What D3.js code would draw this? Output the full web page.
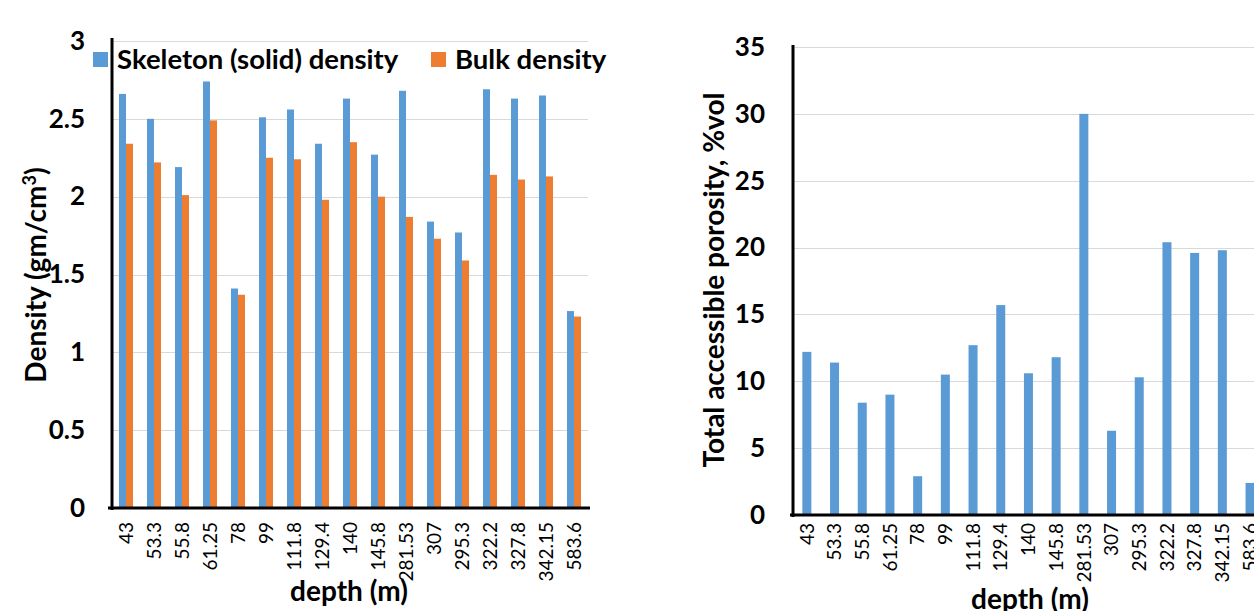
<!DOCTYPE html>
<meta charset="utf-8">
<head>
<title></title>
<script src="https://d3js.org/d3.v7.min.js"></script>
<style>
  body { margin: 0; background: #fff; }
  svg, svg text { font-family: Lato, "Open Sans", sans-serif; }
  .grid line { stroke: #d9d9d9; stroke-width: 1; shape-rendering: crispEdges; }
  .grid path { display: none; }
  .ylab text { font-weight: bold; font-size: 26px; fill: #000; }
  .ylab path, .ylab line { display: none; }
  .xlab text { font-size: 19px; fill: #000; }
  .xlab path, .xlab line { display: none; }
  .title { font-weight: bold; font-size: 28px; fill: #000; }
  .legend { font-weight: bold; font-size: 27.5px; fill: #000; }
</style>
</head>
<body>
<div id="my_dataviz"></div>
<script>
// depths (category labels, same order as the original)
var depths = ["43", "53.3", "55.8", "61.25", "78", "99", "111.8", "129.4", "140",
              "145.8", "281.53", "307", "295.3", "322.2", "327.8", "342.15", "583.6"];

// densities, gm/cm3
var skeleton = [2.66, 2.50, 2.19, 2.74, 1.41, 2.51, 2.56, 2.34, 2.63,
                2.27, 2.68, 1.84, 1.77, 2.69, 2.63, 2.65, 1.265];
var bulk = [2.34, 2.22, 2.01, 2.49, 1.37, 2.25, 2.24, 1.98, 2.35,
            2.00, 1.87, 1.73, 1.59, 2.14, 2.11, 2.13, 1.23];

// total accessible porosity, %vol
var porosity = [12.2, 11.4, 8.4, 9.0, 2.9, 10.5, 12.7, 15.7, 10.6,
                11.8, 30.0, 6.3, 10.3, 20.4, 19.6, 19.8, 2.4];

var densityTicks = [0, 0.5, 1, 1.5, 2, 2.5, 3];
var porosityTicks = [0, 5, 10, 15, 20, 25, 30, 35];

var seriesNames = ["Skeleton (solid) density", "Bulk density"];
var colors = ["#5b9bd5", "#ed7d31"];

var svg = d3.select("#my_dataviz")
  .append("svg")
    .attr("width", 1254)
    .attr("height", 611);

// ---------- left chart: densities ----------
var x1 = d3.scaleBand()
    .domain(depths)
    .range([112, 588])
    .paddingInner(0.5)
    .paddingOuter(0.25);

var xSub = d3.scaleBand()
    .domain([0, 1])
    .range([0, x1.bandwidth()]);

var y1 = d3.scaleLinear()
    .domain([0, 3])
    .range([508, 41]);

svg.append("g")
    .attr("class", "grid")
    .attr("transform", "translate(112,0)")
    .call(d3.axisLeft(y1).tickValues(densityTicks).tickSize(-476).tickFormat(""));

var rows = depths.map(function(d, i) { return {depth: d, vals: [skeleton[i], bulk[i]]}; });

svg.append("g")
  .selectAll("g")
  .data(rows)
  .enter().append("g")
    .attr("transform", function(d) { return "translate(" + x1(d.depth) + ",0)"; })
  .selectAll("rect")
  .data(function(d) { return d.vals.map(function(v, k) { return {k: k, v: v}; }); })
  .enter().append("rect")
    .attr("x", function(d) { return xSub(d.k); })
    .attr("y", function(d) { return y1(d.v); })
    .attr("width", xSub.bandwidth())
    .attr("height", function(d) { return y1(0) - y1(d.v); })
    .attr("fill", function(d) { return colors[d.k]; });

svg.append("g")
    .attr("class", "ylab")
    .attr("transform", "translate(112,0)")
    .call(d3.axisLeft(y1).tickValues(densityTicks).tickSize(0).tickPadding(27)
      .tickFormat(function(d) { return d; }));

svg.append("g")
    .attr("class", "xlab")
    .attr("transform", "translate(0,508)")
    .call(d3.axisBottom(x1).tickSize(0))
  .selectAll("text")
    .attr("transform", "rotate(-90)")
    .attr("x", -14)
    .attr("y", 0)
    .attr("dy", "0.35em")
    .style("text-anchor", "end");

// axis lines
svg.append("line").attr("x1", 112).attr("x2", 112).attr("y1", 38).attr("y2", 510)
    .attr("stroke", "#000").attr("stroke-width", 3);
svg.append("line").attr("x1", 108).attr("x2", 590).attr("y1", 508).attr("y2", 508)
    .attr("stroke", "#000").attr("stroke-width", 3);

// legend
var leg = svg.append("g");
var legX = [93, 431];
seriesNames.forEach(function(name, i) {
  leg.append("rect").attr("x", legX[i]).attr("y", 52).attr("width", 15).attr("height", 15)
      .attr("fill", colors[i]);
  leg.append("text").attr("class", "legend").attr("x", legX[i] + 24).attr("y", 69).text(name);
});

svg.append("text")
    .attr("class", "title")
    .attr("transform", "translate(46,275) rotate(-90)")
    .attr("text-anchor", "middle")
    .html('Density (gm/cm<tspan dy="-10" font-size="18">3</tspan><tspan dy="10">)</tspan>');

svg.append("text")
    .attr("class", "title")
    .attr("x", 349)
    .attr("y", 601)
    .attr("text-anchor", "middle")
    .text("depth (m)");

// ---------- right chart: porosity ----------
var x2 = d3.scaleBand()
    .domain(depths)
    .range([793, 793 + 17 * 27.7])
    .paddingInner(0.675)
    .paddingOuter(0.3375);

var y2 = d3.scaleLinear()
    .domain([0, 35])
    .range([515, 47]);

svg.append("g")
    .attr("class", "grid")
    .attr("transform", "translate(793,0)")
    .call(d3.axisLeft(y2).tickValues(porosityTicks).tickSize(-480).tickFormat(""));

svg.append("g")
  .selectAll("rect")
  .data(porosity)
  .enter().append("rect")
    .attr("x", function(d, i) { return x2(depths[i]); })
    .attr("y", function(d) { return y2(d); })
    .attr("width", x2.bandwidth())
    .attr("height", function(d) { return y2(0) - y2(d); })
    .attr("fill", colors[0]);

svg.append("g")
    .attr("class", "ylab")
    .attr("transform", "translate(793,0)")
    .call(d3.axisLeft(y2).tickValues(porosityTicks).tickSize(0).tickPadding(28));

svg.append("g")
    .attr("class", "xlab")
    .attr("transform", "translate(0,515)")
    .call(d3.axisBottom(x2).tickSize(0))
  .selectAll("text")
    .attr("transform", "rotate(-90)")
    .attr("x", -8)
    .attr("y", 0)
    .attr("dy", "0.35em")
    .style("text-anchor", "end");

svg.append("line").attr("x1", 793).attr("x2", 793).attr("y1", 45).attr("y2", 517)
    .attr("stroke", "#000").attr("stroke-width", 3);
svg.append("line").attr("x1", 790).attr("x2", 1254).attr("y1", 515).attr("y2", 515)
    .attr("stroke", "#000").attr("stroke-width", 3);

svg.append("text")
    .attr("class", "title")
    .attr("transform", "translate(724,280) rotate(-90)")
    .attr("text-anchor", "middle")
    .text("Total accessible porosity, %vol");

svg.append("text")
    .attr("class", "title")
    .attr("x", 1030)
    .attr("y", 609)
    .attr("text-anchor", "middle")
    .text("depth (m)");
</script>
</body>
</html>
